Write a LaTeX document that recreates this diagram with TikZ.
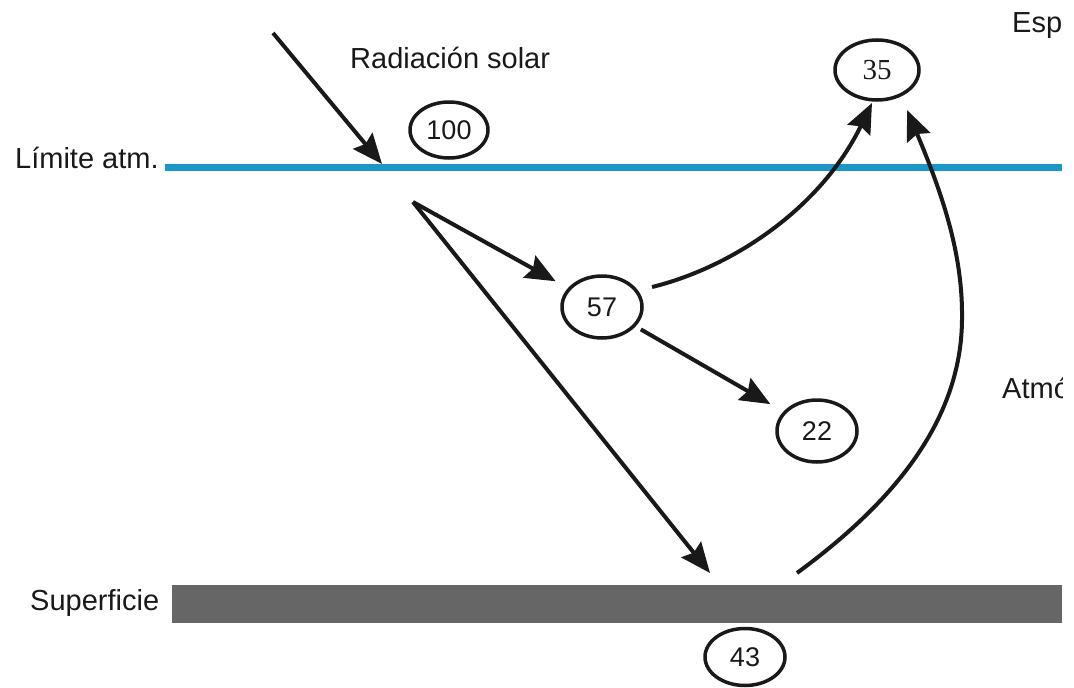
\documentclass[tikz,border=0pt]{standalone}
\usepackage{fontspec}
\setmainfont{Liberation Sans}
\newfontfamily\serifnum{Liberation Serif}
\usetikzlibrary{arrows.meta,shapes.geometric}
\definecolor{atmblue}{RGB}{26,150,200}
\definecolor{surfgray}{RGB}{102,102,102}
\definecolor{inkc}{RGB}{25,25,25}
\tikzset{
  lbl/.style={anchor=base west,inner sep=0pt,text=inkc,font=\fontsize{29}{34}\selectfont},
  val/.style={ellipse,draw=inkc,line width=3.5pt,inner sep=0pt,text=inkc,font=\fontsize{27}{32}\selectfont},
  flow/.style={draw=inkc,line width=4pt,-{Stealth[length=30pt,width=25pt,inset=4pt]}},
  plain/.style={draw=inkc,line width=4pt}
}
\begin{document}
\begin{tikzpicture}[x=1pt,y=-1pt]
\useasboundingbox (0,0) rectangle (1074,688);
\begin{scope}
\clip (0,0) rectangle (1062,688);
% layers
\node[lbl] (limite) at (15,168) {Límite atm.};
\draw[atmblue,line width=7pt] (165,167) -- (1062,167);
\node[lbl] (sup) at (30,610) {Superficie};
\fill[surfgray] (172,585) rectangle (1062,623);
\node[lbl] (rad) at (350,68) {Radiación solar};
\node[lbl] (esp) at (1012,32) {Espacio};
\node[lbl] (atm) at (1002,398) {Atmósfera};
% values
\node[val,minimum width=78pt,minimum height=56pt] (n100) at (449,130) {100};
\node[val,minimum width=84pt,minimum height=60pt,font=\serifnum\fontsize{29}{32}\selectfont] (n35) at (877,70) {35};
\node[val,minimum width=80pt,minimum height=62pt] (n57) at (602,307) {57};
\node[val,minimum width=80pt,minimum height=62pt] (n22) at (817,431) {22};
\node[val,minimum width=80pt,minimum height=57pt] (n43) at (745,657) {43};
% coordinates
\coordinate (sun) at (273,33);
\coordinate (hit) at (382,164);
\coordinate (apex) at (413,202);
\coordinate (ground) at (710,573);
\coordinate (o57) at (652,287);
\coordinate (t35a) at (872,103);
\coordinate (g0) at (797,573);
\coordinate (gmid) at (962,320);
\coordinate (t35b) at (907,110);
% connectors
\draw[flow] (sun) -- (hit);
\draw[flow,shorten >=14pt] (apex) -- (n57);
\draw[flow] (apex) -- (ground);
\draw[flow,shorten <=6pt,shorten >=15pt] (n57) -- (n22);
\draw[flow] (o57) .. controls (730,268) and (820,210) .. (t35a);
\draw[plain] (g0) .. controls (880,512) and (961,430) .. (gmid);
\draw[flow] (gmid) .. controls (963,258) and (945,200) .. (t35b);
\end{scope}
\end{tikzpicture}
\end{document}
